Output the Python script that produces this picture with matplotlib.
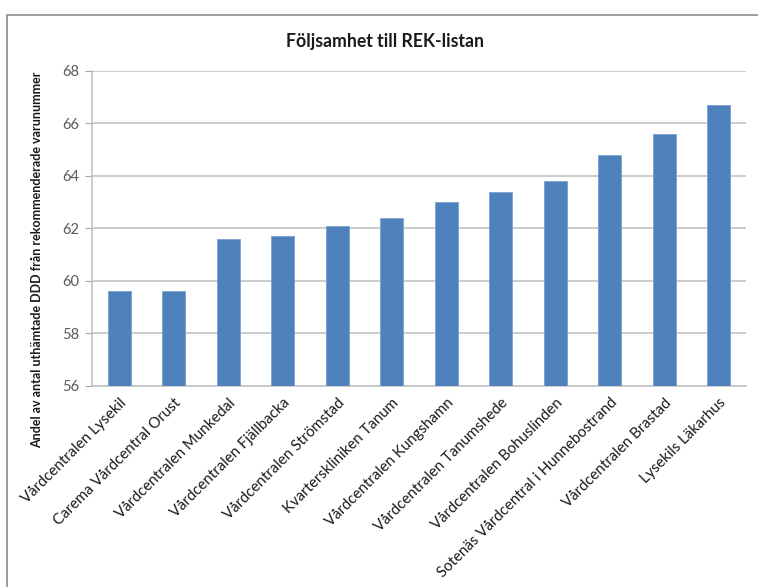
import matplotlib
matplotlib.use("Agg")
import matplotlib.pyplot as plt
from matplotlib.patches import Rectangle

categories = [
    "Vårdcentralen Lysekil",
    "Carema Vårdcentral Orust",
    "Vårdcentralen Munkedal",
    "Vårdcentralen Fjällbacka",
    "Vårdcentralen Strömstad",
    "Kvarterskliniken Tanum",
    "Vårdcentralen Kungshamn",
    "Vårdcentralen Tanumshede",
    "Vårdcentralen Bohuslinden",
    "Sotenäs Vårdcentral i Hunnebostrand",
    "Vårdcentralen Brastad",
    "Lysekils Läkarhus",
]
values = [59.6, 59.6, 61.6, 61.7, 62.1, 62.4, 63.0, 63.4, 63.8, 64.8, 65.6, 66.7]
yticks = [56, 58, 60, 62, 64, 66, 68]

title = "Följsamhet till REK-listan"
ylabel = "Andel av antal uthämtade DDD från rekommenderade varunummer"

plt.rcParams["font.family"] = ["Lato", "DejaVu Sans"]

W, H = 758, 587
fig = plt.figure(figsize=(W / 100, H / 100), dpi=100)

# chart-area frame
fig.patches.append(Rectangle((7 / W, -0.05), 1.2, 1 - 15 / H + 0.05,
                             transform=fig.transFigure, fill=False,
                             edgecolor="#8c8c8c", linewidth=1.2))

ax = fig.add_axes([92 / W, 1 - 386 / H, (746 - 92) / W, (386 - 71) / H])
x = range(len(categories))
ax.bar(x, values, width=0.42, bottom=0, color="#4f81bd", edgecolor="#7aa0d0",
       linewidth=0.6, zorder=3)
ax.set_ylim(56, 68)
ax.set_xlim(-0.5, len(categories) - 0.5)
ax.set_yticks(yticks)
ax.set_yticklabels([str(t) for t in yticks], fontsize=10.5, color="#595959")
ax.tick_params(axis="y", length=5, color="#a6a6a6", pad=4)
ax.tick_params(axis="x", length=0, pad=7)
ax.set_xticks(list(x))
ax.set_xticklabels(categories, rotation=45, ha="right", va="top",
                   rotation_mode="anchor", fontsize=10.8, color="#1a1a1a")
ax.yaxis.grid(True, color="#bfbfbf", linewidth=1.1, zorder=0)
for s in ["top", "right"]:
    ax.spines[s].set_visible(False)
ax.spines["left"].set_color("#bfbfbf")
ax.spines["bottom"].set_color("#bfbfbf")
ax.spines["left"].set_linewidth(1.1)
ax.spines["bottom"].set_linewidth(1.1)

fig.text(385 / W, 1 - 42 / H, title, ha="center", va="center",
         fontsize=12.7, fontweight="bold", color="#1a1a1a")
fig.text(37 / W, 1 - 260 / H, ylabel, rotation=90, ha="center", va="center",
         fontsize=9.0, fontweight="bold", color="#1a1a1a")

fig.savefig("out.png", dpi=100)
